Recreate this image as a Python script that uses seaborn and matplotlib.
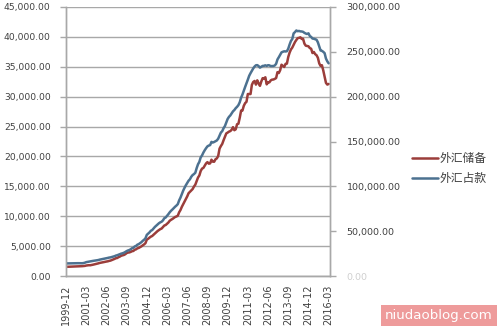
import matplotlib
matplotlib.use("Agg")
import matplotlib.pyplot as plt
import seaborn as sns
import numpy as np
import pandas as pd

# 外汇储备 (亿美元), monthly 1999-12 .. 2016-03
reserves = [
    1547,
    1560, 1570, 1568, 1576, 1580, 1586, 1595, 1601, 1612, 1626, 1640, 1656,
    1681, 1700, 1759, 1790, 1819, 1805, 1861, 1899, 1950, 2011, 2070, 2122,
    2197, 2237, 2280, 2330, 2387, 2428, 2465, 2537, 2583, 2672, 2758, 2864,
    2982, 3021, 3160, 3261, 3403, 3464, 3531, 3653, 3839, 3928, 3956, 4033,
    4156, 4195, 4398, 4471, 4636, 4705, 4831, 4966, 5145, 5296, 5507, 6099,
    6236, 6426, 6591, 6702, 6912, 7110, 7327, 7532, 7690, 7849, 7947, 8189,
    8451, 8536, 8751, 8950, 9250, 9411, 9545, 9720, 9879, 9964, 10096, 10663,
    11047, 11578, 12020, 12466, 12926, 13326, 13853, 14086, 14336, 14547, 14968, 15282,
    15898, 16471, 16822, 17566, 17970, 18088, 18452, 18841, 19056, 18797, 18847, 19460,
    19134, 19121, 19537, 19681, 20089, 21316, 21746, 22104, 22726, 23283, 23856, 23992,
    24153, 24247, 24471, 24905, 24395, 24543, 25387, 25480, 26483, 27678, 27686, 28473,
    28922, 29143, 30447, 30447, 30440, 31975, 32452, 32625, 32017, 32738, 32209, 31811,
    32537, 33097, 33050, 33244, 32061, 32400, 32400, 32726, 32851, 32874, 32977, 33116,
    34100, 33954, 34426, 35345, 35148, 34967, 35478, 35530, 36627, 37366, 37895, 38213,
    38666, 39137, 39480, 39788, 39839, 39932, 39660, 39688, 38877, 38529, 38473, 38430,
    38134, 38015, 37300, 37481, 37111, 36938, 36513, 35574, 35141, 35255, 34383, 33304,
    32309, 32023, 32126,
]

# 外汇占款 (亿元), monthly 1999-12 .. 2016-03
zhankuan = [
    14061,
    14100, 14150, 14200, 14250, 14300, 14290, 14300, 14320, 14350, 14300, 14280, 14291,
    14500, 14900, 15500, 15800, 16100, 16300, 16700, 16900, 17100, 17300, 17600, 17856,
    18300, 18600, 19000, 19300, 19600, 19900, 20200, 20600, 20800, 21200, 21600, 22107,
    22800, 23200, 23800, 24300, 25000, 25400, 26000, 26800, 27800, 28500, 29000, 29842,
    31000, 31500, 33000, 33600, 35000, 35600, 36700, 37800, 39300, 40500, 42100, 45940,
    47300, 48700, 50500, 51300, 53000, 54800, 56200, 57600, 58900, 59900, 60600, 62140,
    64500, 65300, 67100, 69000, 71100, 72800, 74200, 75800, 77300, 78600, 80200, 84361,
    87500, 91500, 95200, 98400, 101300, 103700, 106300, 107900, 110700, 112600, 113700, 115169,
    120300, 124600, 127300, 132300, 134500, 137700, 140300, 142600, 144600, 145500, 146000, 149624,
    148900, 149500, 150300, 151200, 153200, 156700, 160000, 161600, 164900, 167300, 171400, 175155,
    177500, 179100, 181400, 183700, 185100, 187200, 188700, 190600, 193800, 198900, 202400, 206767,
    210900, 214800, 219000, 223300, 226200, 228800, 231500, 233600, 235000, 235200, 234100, 232388,
    233400, 234300, 234400, 235000, 234300, 235100, 234900, 234100, 234200, 234200, 234800, 236670,
    241500, 244000, 246800, 249400, 250100, 250600, 250400, 250700, 253500, 258100, 262100, 264270,
    270600, 272000, 273800, 273000, 273300, 272800, 272700, 272300, 271200, 270400, 269900, 270681,
    267700, 266600, 264800, 264600, 264100, 263500, 260600, 256000, 251500, 251100, 250000, 248538,
    242500, 239400, 237200,
]

tick_labels = ["1999-12", "2001-03", "2002-06", "2003-09", "2004-12", "2006-03",
               "2007-06", "2008-09", "2009-12", "2011-03", "2012-06", "2013-09",
               "2014-12", "2016-03"]
series_names = ["外汇储备", "外汇占款"]

months = pd.period_range("1999-12", "2016-03", freq="M").strftime("%Y-%m").tolist()
df = pd.DataFrame({"month": months, "idx": np.arange(len(months)),
                   "reserves": reserves, "zhankuan": zhankuan})

sns.set_theme(style="white")
plt.rcParams["font.family"] = ["Noto Sans CJK SC", "DejaVu Sans"]

red = "#9b3d3a"
blue = "#4c7190"
grid_c = "#a8a8a8"
txt_c = "#404040"

fig = plt.figure(figsize=(5, 3.33), dpi=100)
ax = fig.add_axes([0.132, 0.171, 0.528, 0.808])
ax2 = ax.twinx()

sns.lineplot(data=df, x="idx", y="reserves", ax=ax, color=red, lw=1.8, label=series_names[0], legend=False)
sns.lineplot(data=df, x="idx", y="zhankuan", ax=ax2, color=blue, lw=1.8, label=series_names[1], legend=False)

n = len(months)
ax.set_xlim(0, n)
ax.set_ylim(0, 45000)
ax2.set_ylim(0, 300000)

yt = np.arange(0, 45001, 5000)
ax.set_yticks(yt)
ax.set_yticklabels([f"{v:,.2f}" for v in yt], fontsize=6.6, color=txt_c, family="DejaVu Sans")
yt2 = np.arange(0, 300001, 50000)
ax2.set_yticks(yt2)
ax2.set_yticklabels([f"{v:,.2f}" for v in yt2], fontsize=6.8, color=txt_c, family="DejaVu Sans")
ax2.get_yticklabels()[0].set_color("#cfcfcf")

pos = [months.index(l) for l in tick_labels]
ax.set_xticks(pos)
ax.set_xticklabels(tick_labels, rotation=90, fontsize=7, color=txt_c, family="DejaVu Sans")

ax.set_xlabel("")
ax.set_ylabel("")
ax2.set_ylabel("")

ax.grid(axis="y", color=grid_c, lw=1)
ax.grid(axis="x", visible=False)
ax2.grid(False)
ax.set_axisbelow(True)

for a in (ax, ax2):
    a.spines["top"].set_visible(False)
    for s in ("left", "right", "bottom"):
        a.spines[s].set_color(grid_c)
        a.spines[s].set_linewidth(1)
ax.tick_params(axis="x", which="both", length=4, color=grid_c, width=1, pad=2, direction="out")
ax.tick_params(axis="y", length=4, color=grid_c, width=1, pad=7, direction="out")
ax2.tick_params(axis="y", length=4, color=grid_c, width=1, pad=8, direction="out")

h1, l1 = ax.get_legend_handles_labels()
h2, l2 = ax2.get_legend_handles_labels()
fig.legend(h1 + h2, l1 + l2, loc="upper left", bbox_to_anchor=(0.803, 0.575),
           frameon=False, fontsize=8.5, handlelength=2.2, handletextpad=0.1,
           labelspacing=0.6, labelcolor=txt_c)

fig.text(0.878, 0.054, "niudaoblog.com", ha="center", va="center", fontsize=9.6,
         color="white", family="DejaVu Sans",
         bbox=dict(boxstyle="square,pad=0.3", fc="#ee9b9b", ec="none"))

fig.savefig("out.png", dpi=100)
